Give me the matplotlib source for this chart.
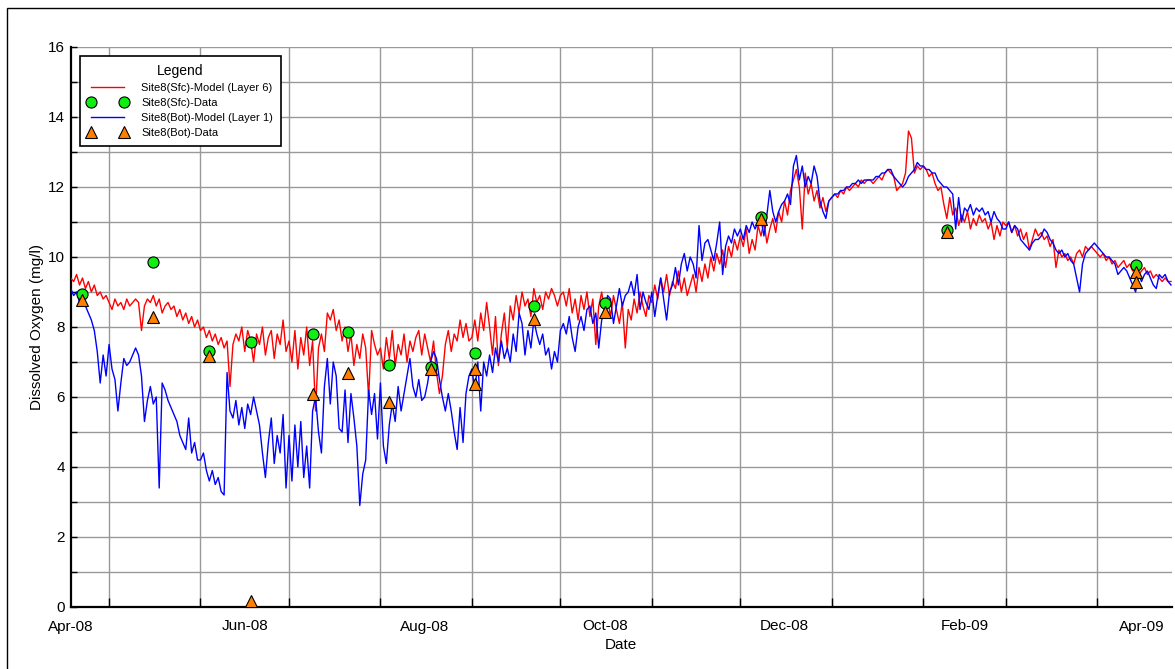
import matplotlib
matplotlib.use("Agg")
import matplotlib.pyplot as plt
import matplotlib.dates as mdates
from matplotlib.lines import Line2D
from matplotlib.ticker import FixedLocator, FixedFormatter, NullFormatter
import pandas as pd

plt.rcParams['font.family'] = ['Liberation Sans', 'DejaVu Sans']

# daily model output, 2008-04-18 .. 2009-04-26
days = pd.date_range('2008-04-18', periods=374, freq='D')

# surface layer model (red)
sfc_model = [
    # Apr-08
    9.4, 9.3, 9.5, 9.2, 9.4, 9.1, 9.3, 9.0, 9.2, 8.9, 9.0, 8.8, 8.9,
    # May
    8.7, 8.5, 8.8, 8.6, 8.7, 8.5, 8.8, 8.6, 8.7, 8.8, 8.7, 7.9, 8.6, 8.8, 8.7, 8.9,
    8.6, 8.8, 8.4, 8.6, 8.7, 8.5, 8.6, 8.3, 8.5, 8.2, 8.4, 8.1, 8.3, 8.0, 8.2,
    # Jun
    7.9, 8.0, 7.7, 7.9, 7.6, 7.8, 7.5, 7.7, 7.4, 7.6, 6.3, 7.5, 7.8, 7.6, 8.0,
    7.3, 7.9, 7.6, 7.0, 7.8, 7.5, 8.0, 7.2, 7.7, 7.9, 7.1, 7.8, 7.5, 8.2, 7.3,
    # Jul
    7.6, 7.0, 7.9, 6.8, 7.7, 7.2, 8.0, 6.9, 7.6, 5.6, 7.4, 7.8, 7.3, 8.4, 8.2, 8.5,
    7.9, 8.2, 7.6, 8.0, 7.3, 7.8, 6.9, 7.5, 7.1, 7.8, 7.4, 6.0, 7.9, 7.5, 7.2,
    # Aug
    7.4, 6.8, 7.7, 7.1, 7.9, 6.9, 7.5, 7.2, 7.8, 7.0, 7.6, 7.3, 7.7, 7.9, 7.2, 7.8,
    7.4, 7.0, 7.6, 6.7, 6.1, 6.6, 7.5, 7.9, 7.3, 7.8, 7.6, 8.2, 7.7, 8.1, 7.6,
    # Sep
    7.7, 8.2, 7.6, 8.4, 7.9, 8.7, 8.0, 7.2, 8.3, 6.9, 7.8, 8.4, 7.4, 8.6, 8.2,
    8.9, 8.4, 9.0, 8.6, 8.8, 8.3, 9.1, 8.7, 8.9, 8.5, 9.0, 8.8, 9.1, 8.9, 8.6,
    # Oct
    8.9, 9.0, 8.6, 9.1, 8.4, 8.8, 8.2, 8.9, 8.5, 9.0, 8.3, 8.8, 7.5, 8.6, 9.0, 8.4,
    8.8, 8.3, 8.9, 8.5, 8.1, 8.7, 7.4, 8.5, 8.2, 8.8, 8.4, 9.0, 8.6, 8.3, 8.9,
    # Nov
    8.7, 9.2, 8.8, 9.4, 9.0, 9.5, 8.9, 9.3, 9.1, 9.6, 9.0, 9.4, 8.9, 9.2, 9.5,
    9.0, 9.7, 9.3, 9.8, 9.4, 10.0, 9.6, 10.1, 9.8, 10.2, 9.7, 10.3, 10.0, 10.5, 10.2,
    # Dec
    10.6, 10.3, 10.8, 10.1, 10.5, 10.2, 10.9, 10.6, 11.0, 10.4, 10.8, 11.1, 10.7, 11.3,
    11.0, 11.6, 11.2, 11.9, 12.2, 12.5, 12.0, 10.8, 12.4, 11.8, 12.1, 11.6, 11.9, 11.4,
    11.7, 11.3, 11.6,
    # Jan-09
    11.7, 11.8, 11.7, 11.9, 11.8, 12.0, 11.9, 12.0, 12.1, 12.0, 12.2, 12.1, 12.2, 12.2,
    12.1, 12.2, 12.3, 12.2, 12.4, 12.5, 12.4, 12.3, 11.9, 12.0, 12.1, 12.4, 13.6, 13.4,
    12.4, 12.6, 12.5,
    # Feb
    12.6, 12.5, 12.3, 12.4, 12.1, 11.9, 12.0, 11.5, 11.1, 11.7, 11.2, 11.4, 10.9, 11.2,
    11.0, 11.3, 10.8, 11.1, 10.9, 11.2, 11.0, 11.1, 10.8, 11.0, 10.5, 10.9, 10.6, 11.0,
    # Mar
    10.9, 11.0, 10.7, 10.9, 10.6, 10.8, 10.5, 10.7, 10.2, 10.5, 10.8, 10.6, 10.7, 10.5,
    10.6, 10.3, 10.5, 9.7, 10.2, 10.0, 10.1, 9.9, 10.0, 9.8, 10.1, 10.2, 10.0, 10.3,
    10.2, 10.3, 10.2,
    # Apr-09
    10.1, 10.0, 10.1, 9.9, 10.0, 9.8, 9.9, 9.7, 9.8, 9.9, 9.7, 9.8, 9.6, 9.7, 9.5,
    9.6, 9.7, 9.5, 9.6, 9.4, 9.5, 9.4, 9.3, 9.4, 9.3, 9.3,
]

# bottom layer model (blue)
bot_model = [
    # Apr-08
    9.1, 8.9, 9.0, 8.7, 8.8, 8.6, 8.4, 8.2, 7.9, 7.3, 6.4, 7.2, 6.6,
    # May
    7.5, 6.8, 6.5, 5.6, 6.4, 7.1, 6.9, 7.0, 7.2, 7.4, 7.2, 6.6, 5.3, 5.9, 6.3, 5.8,
    6.0, 3.4, 6.4, 6.2, 5.9, 5.7, 5.5, 5.3, 4.9, 4.7, 4.5, 5.4, 4.4, 4.7, 4.2,
    # Jun
    4.2, 4.4, 3.9, 3.6, 3.9, 3.5, 3.7, 3.3, 3.2, 6.7, 5.6, 5.4, 5.9, 5.2, 5.7,
    5.1, 5.8, 5.5, 6.0, 5.6, 5.2, 4.4, 3.7, 4.7, 5.4, 4.1, 4.9, 4.4, 5.5, 3.4,
    # Jul
    4.9, 3.6, 5.2, 4.0, 5.3, 3.7, 4.6, 3.4, 5.6, 6.0, 5.0, 4.4, 6.3, 7.1, 5.8, 7.0,
    6.6, 5.1, 5.0, 6.2, 4.7, 6.1, 5.4, 4.6, 2.9, 3.8, 4.2, 6.2, 5.5, 6.1, 4.8,
    # Aug
    6.4, 4.6, 4.1, 5.2, 5.8, 5.3, 6.3, 5.6, 6.1, 6.6, 7.1, 6.3, 6.0, 6.5, 5.9, 6.0,
    6.4, 7.0, 7.3, 7.1, 6.5, 6.0, 5.6, 6.1, 5.6, 5.0, 4.5, 5.7, 4.7, 6.1, 6.6,
    # Sep
    6.8, 6.2, 7.0, 5.6, 7.0, 6.6, 7.2, 6.7, 7.4, 7.0, 7.6, 7.1, 7.4, 7.0, 7.8,
    7.3, 8.4, 8.1, 7.2, 7.9, 7.4, 8.2, 7.8, 7.5, 7.8, 7.2, 7.4, 6.8, 7.3, 7.0,
    # Oct
    7.9, 8.1, 7.8, 8.3, 7.7, 7.3, 8.0, 8.3, 7.9, 8.5, 8.6, 8.1, 8.4, 7.4, 8.2, 8.4,
    8.9, 8.8, 8.1, 8.6, 9.1, 8.6, 8.9, 9.0, 9.3, 8.9, 9.5, 8.5, 9.0, 8.7, 8.5,
    # Nov
    9.0, 8.3, 8.9, 9.4, 8.8, 8.2, 9.0, 9.2, 9.7, 9.2, 9.8, 10.1, 9.6, 10.0, 9.8,
    9.4, 10.9, 9.9, 10.4, 10.5, 10.2, 9.9, 10.4, 11.0, 9.5, 10.3, 10.6, 10.4, 10.8, 10.6,
    # Dec
    10.8, 10.5, 10.9, 10.7, 11.0, 10.8, 11.0, 11.1, 10.6, 11.2, 11.9, 11.3, 11.0, 11.3,
    11.5, 11.6, 11.8, 11.5, 12.6, 12.9, 12.2, 12.6, 12.0, 12.3, 12.1, 12.6, 12.3, 11.6,
    11.3, 11.1, 11.6,
    # Jan-09
    11.7, 11.8, 11.8, 11.9, 11.9, 12.0, 12.0, 12.1, 12.1, 12.2, 12.1, 12.2, 12.2, 12.2,
    12.2, 12.3, 12.3, 12.4, 12.4, 12.5, 12.5, 12.3, 12.2, 12.1, 12.0, 12.1, 12.3, 12.4,
    12.5, 12.7, 12.6,
    # Feb
    12.6, 12.5, 12.5, 12.4, 12.4, 12.2, 12.1, 12.0, 12.0, 11.9, 11.8, 10.8, 11.7, 11.0,
    11.4, 11.3, 11.5, 11.2, 11.4, 11.3, 11.4, 11.2, 11.3, 11.0, 11.3, 11.1, 11.0, 10.8,
    # Mar
    10.8, 11.0, 10.7, 10.9, 10.8, 10.5, 10.4, 10.3, 10.2, 10.4, 10.5, 10.5, 10.6, 10.8,
    10.7, 10.5, 10.4, 10.2, 10.1, 10.2, 10.0, 10.1, 9.9, 9.8, 9.4, 9.0, 9.8, 10.1,
    10.2, 10.3, 10.4,
    # Apr-09
    10.3, 10.2, 10.1, 10.0, 10.0, 9.9, 9.8, 9.5, 9.6, 9.7, 9.6, 9.4, 9.2, 9.0, 9.5,
    9.3, 9.5, 9.6, 9.4, 9.2, 9.1, 9.5, 9.4, 9.5, 9.3, 9.2,
]

# field samples
sfc_dates = ['2008-04-22', '2008-05-16', '2008-06-04', '2008-06-18', '2008-07-09',
             '2008-07-21', '2008-08-04', '2008-08-18', '2008-09-02', '2008-09-22',
             '2008-10-16', '2008-12-08', '2009-02-09', '2009-04-14']
sfc_data = [8.95, 9.87, 7.32, 7.58, 7.81, 7.87, 6.91, 6.87, 7.27, 8.59,
            8.69, 11.13, 10.77, 9.77]

bot_dates = ['2008-04-22', '2008-05-16', '2008-06-04', '2008-06-18', '2008-07-09',
             '2008-07-21', '2008-08-04', '2008-08-18', '2008-09-02', '2008-09-02',
             '2008-09-22', '2008-10-16', '2008-12-08', '2009-02-09', '2009-04-14',
             '2009-04-14']
bot_data = [8.77, 8.28, 7.17, 0.16, 6.09, 6.70, 5.87, 6.79, 6.80, 6.37,
            8.22, 8.43, 11.10, 10.72, 9.57, 9.29]

tick_labels = ['Apr-08', 'Jun-08', 'Aug-08', 'Oct-08', 'Dec-08', 'Feb-09', 'Apr-09']
label_dates = ['2008-04-18', '2008-06-16', '2008-08-16', '2008-10-16',
               '2008-12-16', '2009-02-15', '2009-04-16']

fig = plt.figure(figsize=(11.75, 6.69), dpi=100)
ax = fig.add_axes([70.7 / 1175, 62 / 669, (1172 - 70.7) / 1175, 560 / 669])

ax.plot(days, sfc_model, color='#FF0000', lw=1.0, zorder=3)
ax.plot(days, bot_model, color='#0000FF', lw=1.0, zorder=3)
ax.plot(pd.to_datetime(sfc_dates), sfc_data, 'o', ms=8, mfc='#11EE11', mec='black',
        mew=0.8, zorder=5, clip_on=False)
ax.plot(pd.to_datetime(bot_dates), bot_data, '^', ms=8, mfc='#FF8000', mec='black',
        mew=0.8, zorder=6, clip_on=False)

ax.set_xlim(pd.Timestamp('2008-04-18'), pd.Timestamp('2009-04-26 08:00'))
ax.set_ylim(0, 16)

ax.xaxis.set_major_locator(mdates.MonthLocator())
ax.xaxis.set_major_formatter(NullFormatter())
ax.xaxis.set_minor_locator(FixedLocator(mdates.date2num(pd.to_datetime(label_dates))))
ax.xaxis.set_minor_formatter(FixedFormatter(tick_labels))
ax.tick_params(axis='x', which='major', direction='in', length=6.5, width=1, color='black')
ax.tick_params(axis='x', which='minor', length=0, pad=9, labelsize=11)

ax.set_yticks(range(0, 17, 2))
ax.set_yticks(range(1, 16, 2), minor=True)
ax.tick_params(axis='y', which='both', direction='in', length=4, width=1, labelsize=11, pad=4)

ax.grid(True, which='major', color='#999999', lw=1.0, zorder=0)
ax.grid(True, which='minor', axis='y', color='#999999', lw=1.0, zorder=0)
ax.set_axisbelow(True)

for s in ['top', 'right']:
    ax.spines[s].set_visible(False)
for s in ['left', 'bottom']:
    ax.spines[s].set_linewidth(1.6)

ax.set_xlabel('Date', fontsize=11, labelpad=3)
ax.set_ylabel('Dissolved Oxygen (mg/l)', fontsize=11, labelpad=3)

handles = [
    Line2D([], [], color='#FF0000', lw=1.0),
    Line2D([], [], ls='none', marker='o', ms=8, mfc='#11EE11', mec='black', mew=0.8),
    Line2D([], [], color='#0000FF', lw=1.0),
    Line2D([], [], ls='none', marker='^', ms=8, mfc='#FF8000', mec='black', mew=0.8),
]
labels = ['Site8(Sfc)-Model (Layer 6)', 'Site8(Sfc)-Data',
          'Site8(Bot)-Model (Layer 1)', 'Site8(Bot)-Data']
leg = ax.legend(handles, labels, title='Legend', loc='upper left',
                bbox_to_anchor=(0.0084, 0.984), numpoints=2, fontsize=8,
                title_fontsize=10, fancybox=False, framealpha=1, edgecolor='black',
                handlelength=3.6, handletextpad=1.2, borderpad=0.7, labelspacing=0.45,
                borderaxespad=0)
leg.get_frame().set_linewidth(1.2)

fig.add_artist(plt.Rectangle((7 / 1175, -0.01), 1.0, 1.01 - 8 / 669, transform=fig.transFigure,
                             fill=False, lw=1.0, ec='black'))

fig.savefig('out.png', dpi=100)
